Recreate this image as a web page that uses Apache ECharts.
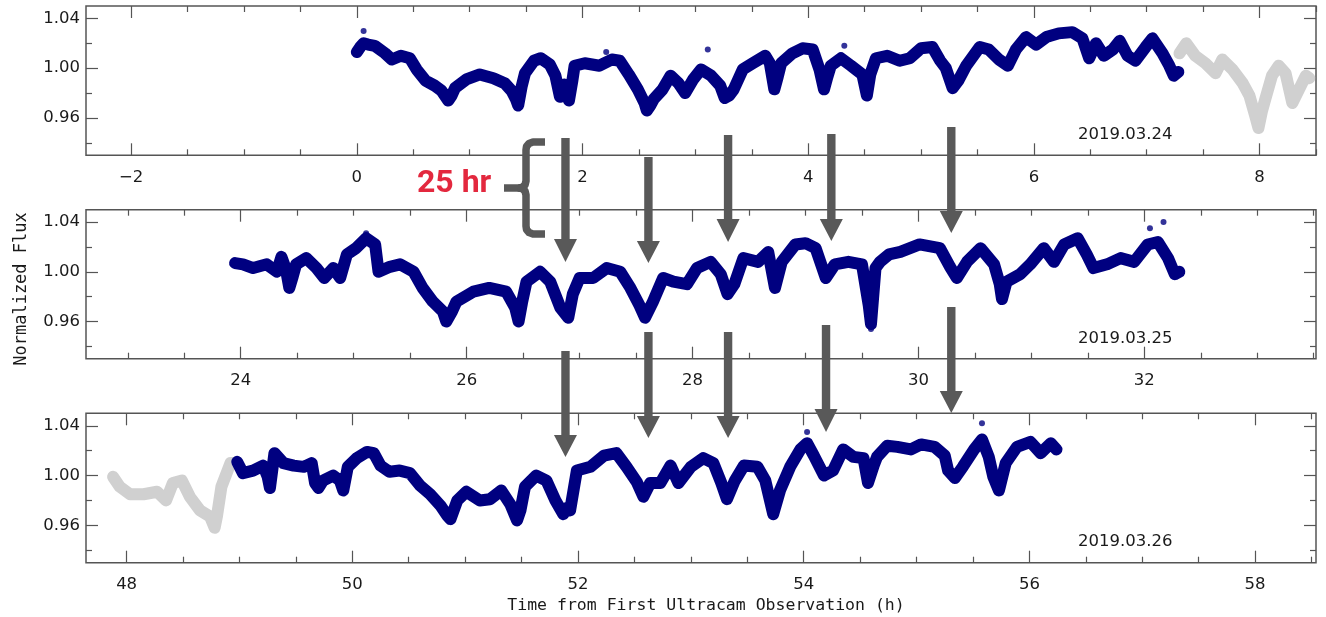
<!DOCTYPE html>
<html>
<head>
<meta charset="utf-8">
<script src="https://cdn.jsdelivr.net/npm/echarts@6/dist/echarts.min.js"></script>
<style>
  html, body { margin: 0; padding: 0; background: #ffffff; }
  #chart { width: 1326px; height: 617px; }
</style>
</head>
<body>
<div id="chart"></div>
<script>
// ULTRACAM light curves, three consecutive nights.
// Each point: [hours since first observation, normalized flux]

const night1 = [
  [0.00,1.013],[0.03,1.017],[0.06,1.020],[0.10,1.019],[0.16,1.018],[0.25,1.012],[0.31,1.007],[0.39,1.010],
  [0.47,1.008],[0.53,0.999],[0.61,0.990],[0.69,0.986],[0.75,0.982],[0.81,0.974],[0.84,0.978],[0.87,0.984],
  [0.97,0.991],[1.09,0.995],[1.21,0.992],[1.31,0.988],[1.37,0.982],[1.41,0.975],[1.43,0.970],[1.46,0.985],
  [1.49,0.996],[1.57,1.006],[1.63,1.008],[1.71,1.003],[1.76,0.994],[1.80,0.977],[1.82,0.985],[1.84,0.987],
  [1.88,0.974],[1.91,0.990],[1.93,1.002],[2.02,1.004],[2.15,1.002],[2.26,1.007],[2.33,1.006],[2.41,0.995],
  [2.49,0.983],[2.55,0.972],[2.57,0.966],[2.60,0.970],[2.63,0.975],[2.71,0.983],[2.78,0.994],[2.85,0.988],
  [2.91,0.980],[2.98,0.991],[3.05,0.999],[3.14,0.994],[3.22,0.986],[3.26,0.976],[3.30,0.978],[3.34,0.983],
  [3.42,0.999],[3.51,1.004],[3.62,1.010],[3.66,1.004],[3.70,0.983],[3.73,0.993],[3.76,1.004],[3.86,1.012],
  [3.95,1.016],[4.04,1.015],[4.10,0.999],[4.14,0.983],[4.17,0.993],[4.20,1.002],[4.29,1.008],[4.38,1.002],
  [4.48,0.995],[4.52,0.978],[4.55,0.995],[4.60,1.008],[4.70,1.010],[4.81,1.006],[4.90,1.008],[5.00,1.016],
  [5.10,1.017],[5.17,1.006],[5.22,1.000],[5.28,0.984],[5.33,0.990],[5.40,1.002],[5.52,1.017],[5.60,1.015],
  [5.69,1.007],[5.77,1.002],[5.84,1.015],[5.93,1.025],[6.02,1.019],[6.11,1.025],[6.22,1.028],[6.34,1.029],
  [6.43,1.024],[6.49,1.008],[6.55,1.020],[6.62,1.010],[6.70,1.015],[6.76,1.022],[6.83,1.010],[6.90,1.006],
  [6.99,1.017],[7.05,1.024],[7.14,1.012],[7.20,1.002],[7.24,0.994],[7.28,0.997]
];
const night1Extra = [
  [7.29,1.012],[7.35,1.020],[7.43,1.010],[7.52,1.004],[7.61,0.996],[7.67,1.007],[7.76,0.999],[7.85,0.988],
  [7.91,0.978],[7.96,0.962],[7.99,0.952],[8.02,0.965],[8.05,0.975],[8.11,0.994],[8.17,1.002],[8.23,0.996],
  [8.29,0.972],[8.35,0.983],[8.41,0.994],[8.44,0.992]
];
const night1Stray = [[0.06,1.030],[2.21,1.013],[3.11,1.015],[4.32,1.018]];

const night2 = [
  [23.95,1.007],[24.02,1.006],[24.11,1.003],[24.23,1.006],[24.32,1.000],[24.36,1.012],[24.40,1.002],[24.43,0.987],
  [24.46,0.996],[24.49,1.006],[24.58,1.011],[24.67,1.003],[24.74,0.995],[24.82,1.003],[24.88,0.995],[24.94,1.014],
  [25.02,1.019],[25.11,1.027],[25.19,1.022],[25.22,1.000],[25.32,1.004],[25.41,1.006],[25.53,1.000],[25.61,0.987],
  [25.70,0.976],[25.79,0.968],[25.82,0.960],[25.87,0.968],[25.91,0.976],[26.06,0.984],[26.20,0.987],[26.35,0.984],
  [26.43,0.971],[26.46,0.960],[26.49,0.975],[26.53,0.992],[26.65,1.000],[26.74,0.992],[26.83,0.971],[26.90,0.963],
  [26.94,0.982],[27.00,0.995],[27.12,0.995],[27.24,1.003],[27.36,1.000],[27.45,0.987],[27.53,0.973],[27.58,0.963],
  [27.65,0.976],[27.74,0.995],[27.83,0.992],[27.95,0.990],[28.04,1.003],[28.16,1.008],[28.25,0.998],[28.31,0.982],
  [28.37,0.990],[28.45,1.011],[28.58,1.008],[28.67,1.016],[28.73,0.987],[28.79,1.008],[28.91,1.022],[29.00,1.023],
  [29.09,1.019],[29.18,0.995],[29.26,1.006],[29.38,1.008],[29.50,1.006],[29.56,0.973],[29.58,0.958],[29.62,1.003],
  [29.66,1.008],[29.74,1.014],[29.84,1.016],[30.01,1.022],[30.19,1.019],[30.28,1.004],[30.34,0.995],[30.43,1.008],
  [30.55,1.019],[30.67,1.006],[30.72,0.990],[30.74,0.978],[30.78,0.992],[30.90,0.998],[30.99,1.006],[31.11,1.019],
  [31.20,1.008],[31.29,1.022],[31.41,1.027],[31.49,1.014],[31.55,1.003],[31.67,1.006],[31.79,1.011],[31.91,1.008],
  [32.03,1.022],[32.12,1.024],[32.21,1.011],[32.27,0.998],[32.31,1.000]
];
const night2Stray = [[25.11,1.031],[29.58,0.954],[32.05,1.035],[32.17,1.040]];

const night3Extra = [
  [47.88,0.999],[47.94,0.991],[48.03,0.985],[48.15,0.985],[48.27,0.987],[48.35,0.980],[48.41,0.994],[48.49,0.996],
  [48.56,0.983],[48.65,0.972],[48.74,0.967],[48.78,0.958],[48.80,0.967],[48.84,0.991],[48.92,1.010],[48.96,1.010]
];
const night3 = [
  [48.98,1.011],[49.03,1.002],[49.12,1.004],[49.21,1.008],[49.25,0.999],[49.27,0.990],[49.31,1.018],[49.39,1.010],
  [49.48,1.008],[49.57,1.007],[49.64,1.010],[49.67,0.994],[49.70,0.990],[49.74,0.996],[49.83,1.000],[49.89,0.996],
  [49.92,0.988],[49.96,1.007],[50.04,1.014],[50.13,1.019],[50.19,1.018],[50.25,1.008],[50.33,1.003],[50.42,1.004],
  [50.51,1.002],[50.60,0.992],[50.69,0.985],[50.78,0.976],[50.84,0.968],[50.87,0.965],[50.93,0.980],[51.01,0.987],
  [51.13,0.980],[51.22,0.981],[51.32,0.988],[51.40,0.977],[51.46,0.964],[51.49,0.972],[51.53,0.991],[51.63,1.000],
  [51.72,0.996],[51.80,0.980],[51.87,0.969],[51.90,0.974],[51.93,0.972],[51.99,1.004],[52.11,1.007],[52.23,1.016],
  [52.34,1.018],[52.43,1.007],[52.52,0.995],[52.58,0.983],[52.64,0.994],[52.73,0.994],[52.82,1.008],[52.89,0.994],
  [53.00,1.007],[53.11,1.014],[53.20,1.010],[53.27,0.994],[53.32,0.981],[53.39,0.996],[53.47,1.008],[53.59,1.007],
  [53.66,0.996],[53.73,0.969],[53.79,0.988],[53.88,1.007],[53.97,1.021],[54.03,1.026],[54.09,1.016],[54.18,1.000],
  [54.26,1.004],[54.35,1.021],[54.44,1.015],[54.53,1.014],[54.57,0.994],[54.62,1.008],[54.65,1.015],[54.74,1.024],
  [54.83,1.023],[54.95,1.021],[55.04,1.025],[55.16,1.023],[55.25,1.016],[55.28,1.004],[55.34,0.998],[55.41,1.007],
  [55.51,1.021],[55.58,1.029],[55.64,1.015],[55.68,0.999],[55.73,0.988],[55.79,1.010],[55.89,1.023],[56.01,1.027],
  [56.10,1.018],[56.19,1.026],[56.24,1.021]
];
const night3Stray = [[54.03,1.035],[55.58,1.042]];

// Axis ranges and tick labels for each night
const xRanges = [[-2.40, 8.50], [22.63, 33.52], [47.64, 58.54]];
const xMajorTicks = [[-2, 0, 2, 4, 6, 8], [24, 26, 28, 30, 32], [48, 50, 52, 54, 56, 58]];
const yRange = [0.93, 1.05];
const yMajorTicks = [0.96, 1.00, 1.04];
const yMinorTicks = [0.94, 0.98, 1.02];
const nightLabels = ['2019.03.24', '2019.03.25', '2019.03.26'];

// Arrows marking recurring dips, positioned on the first night's time axis
const upperArrowTimes = [1.849, 2.584, 3.290, 4.205, 5.268];
const lowerArrowTimes = [1.849, 2.584, 3.290, 4.158, 5.268];

const NAVY = '#000080';
const GREY = '#d0d0d0';
const FRAME = '#555555';
const ARROW = '#595959';
const TICK_FONT = '"DejaVu Sans", sans-serif';
const MONO_FONT = '"DejaVu Sans Mono", monospace';

const gridBoxes = [
  { top: 6, height: 149.3 },
  { top: 209.7, height: 149 },
  { top: 413.3, height: 149.4 }
];

function halfHourTicks(range) {
  const out = [];
  const start = Math.ceil(range[0] * 2) / 2;
  for (let v = start; v <= range[1] + 1e-9; v += 0.5) {
    if (Math.abs(v - Math.round(v / 2) * 2) > 1e-6) out.push(+v.toFixed(2));
  }
  return out;
}

const grids = gridBoxes.map(b => ({
  left: 86, right: 10, top: b.top, height: b.height,
  show: true, borderColor: FRAME, borderWidth: 1.5, backgroundColor: 'transparent'
}));

const xAxes = [];
const yAxes = [];
const mainX = [];
const mainY = [];

function fmtX(v) { return v < 0 ? '\u2212' + Math.abs(v) : String(v); }
const hiddenLine = { show: false, onZero: false };

gridBoxes.forEach((b, gi) => {
  const r = xRanges[gi];
  const minors = halfHourTicks(r);
  const baseX = {
    gridIndex: gi, type: 'value', min: r[0], max: r[1],
    axisLine: hiddenLine, splitLine: { show: false }
  };
  mainX.push(xAxes.length);
  xAxes.push(Object.assign({}, baseX, {
    position: 'bottom',
    axisTick: { show: true, inside: true, length: 12, customValues: xMajorTicks[gi], lineStyle: { color: FRAME, width: 1.2 } },
    axisLabel: { show: true, customValues: xMajorTicks[gi], margin: 14, formatter: fmtX,
                 color: '#1a1a1a', fontSize: 16.5, fontFamily: TICK_FONT }
  }));
  xAxes.push(Object.assign({}, baseX, {
    position: 'bottom',
    axisTick: { show: true, inside: true, length: 6, customValues: minors, lineStyle: { color: FRAME, width: 1.2 } },
    axisLabel: { show: false }
  }));
  xAxes.push(Object.assign({}, baseX, {
    position: 'top',
    axisTick: { show: true, inside: true, length: 12, customValues: xMajorTicks[gi], lineStyle: { color: FRAME, width: 1.2 } },
    axisLabel: { show: false }
  }));
  xAxes.push(Object.assign({}, baseX, {
    position: 'top',
    axisTick: { show: true, inside: true, length: 6, customValues: minors, lineStyle: { color: FRAME, width: 1.2 } },
    axisLabel: { show: false }
  }));

  const baseY = {
    gridIndex: gi, type: 'value', min: yRange[0], max: yRange[1],
    axisLine: hiddenLine, splitLine: { show: false }
  };
  mainY.push(yAxes.length);
  yAxes.push(Object.assign({}, baseY, {
    position: 'left',
    axisTick: { show: true, inside: true, length: 12, customValues: yMajorTicks, lineStyle: { color: FRAME, width: 1.2 } },
    axisLabel: { show: true, customValues: yMajorTicks, margin: 6, formatter: v => v.toFixed(2),
                 color: '#1a1a1a', fontSize: 16.5, fontFamily: TICK_FONT }
  }));
  yAxes.push(Object.assign({}, baseY, {
    position: 'left',
    axisTick: { show: true, inside: true, length: 6, customValues: yMinorTicks, lineStyle: { color: FRAME, width: 1.2 } },
    axisLabel: { show: false }
  }));
  yAxes.push(Object.assign({}, baseY, {
    position: 'right',
    axisTick: { show: true, inside: true, length: 12, customValues: yMajorTicks, lineStyle: { color: FRAME, width: 1.2 } },
    axisLabel: { show: false }
  }));
  yAxes.push(Object.assign({}, baseY, {
    position: 'right',
    axisTick: { show: true, inside: true, length: 6, customValues: yMinorTicks, lineStyle: { color: FRAME, width: 1.2 } },
    axisLabel: { show: false }
  }));
});

// Dense photometry drawn as a thick band through the measured points
function curve(gi, data, color) {
  return {
    type: 'line', xAxisIndex: mainX[gi], yAxisIndex: mainY[gi], data: data,
    showSymbol: false, silent: true, animation: false, clip: true,
    lineStyle: { color: color, width: 12, join: 'round', cap: 'round' }
  };
}
function stray(gi, data) {
  return {
    type: 'scatter', xAxisIndex: mainX[gi], yAxisIndex: mainY[gi], data: data,
    symbolSize: 6, itemStyle: { color: NAVY }, silent: true, animation: false
  };
}

const chart = echarts.init(document.getElementById('chart'), null, { renderer: 'canvas' });
chart.setOption({
  backgroundColor: '#ffffff',
  animation: false,
  grid: grids,
  xAxis: xAxes,
  yAxis: yAxes,
  series: [
    curve(0, night1, NAVY), curve(0, night1Extra, GREY), stray(0, night1Stray),
    curve(1, night2, NAVY), stray(1, night2Stray),
    curve(2, night3Extra, GREY), curve(2, night3, NAVY), stray(2, night3Stray)
  ]
});

// Annotation layer: dip arrows, 25 hr bracket, night labels and axis titles
function arrowShape(x, top, base, tip) {
  return {
    type: 'polygon', silent: true, z: 100,
    shape: { points: [[x - 4.2, top], [x + 4.2, top], [x + 4.2, base], [x + 11.5, base],
                      [x, tip], [x - 11.5, base], [x - 4.2, base]] },
    style: { fill: ARROW }
  };
}
const upperGeom = [[138, 239, 262], [157, 241, 263], [135, 219, 242], [134, 219, 241], [127, 211, 233]];
const lowerGeom = [[351, 435, 457], [332, 416, 438], [332, 416, 438], [325, 409, 432], [307, 391, 413]];

const graphics = [];
upperArrowTimes.forEach((t, i) => {
  const x = chart.convertToPixel({ xAxisIndex: mainX[0] }, t);
  graphics.push(arrowShape(x, upperGeom[i][0], upperGeom[i][1], upperGeom[i][2]));
});
lowerArrowTimes.forEach((t, i) => {
  const x = chart.convertToPixel({ xAxisIndex: mainX[0] }, t);
  graphics.push(arrowShape(x, lowerGeom[i][0], lowerGeom[i][1], lowerGeom[i][2]));
});

// curly bracket spanning the 25 hr offset between nights
const bracketStyle = { stroke: ARROW, lineWidth: 7.5, fill: null, lineCap: 'butt', lineJoin: 'round' };
graphics.push({
  type: 'polyline', silent: true, z: 100,
  shape: { points: [[545, 142], [533, 142], [529, 143.5], [526.5, 146.5], [526, 150], [526, 181],
                    [525, 185], [522, 187.5], [518, 188], [504, 188]] },
  style: bracketStyle
});
graphics.push({
  type: 'polyline', silent: true, z: 100,
  shape: { points: [[518, 188], [522, 188.5], [525, 191], [526, 195], [526, 226], [526.5, 229.5],
                    [529, 232.5], [533, 234], [545, 234]] },
  style: bracketStyle
});
graphics.push({
  type: 'text', silent: true, z: 100, x: 417, y: 184,
  style: { text: '25 hr', font: 'bold 32px Roboto, "Liberation Sans", sans-serif', fill: '#e3283e',
           textAlign: 'left', textVerticalAlign: 'middle', align: 'left', verticalAlign: 'middle' }
});

const labelY = [135, 338.7, 542];
nightLabels.forEach((s, i) => {
  graphics.push({
    type: 'text', silent: true, z: 100, x: 1078, y: labelY[i],
    style: { text: s, font: '16.5px ' + TICK_FONT, fill: '#1a1a1a',
             textAlign: 'left', textVerticalAlign: 'middle', align: 'left', verticalAlign: 'middle' }
  });
});

graphics.push({
  type: 'text', silent: true, z: 100, x: 706, y: 606,
  style: { text: 'Time from First Ultracam Observation (h)', font: '16.5px ' + MONO_FONT, fill: '#1a1a1a',
           textAlign: 'center', textVerticalAlign: 'middle', align: 'center', verticalAlign: 'middle' }
});
graphics.push({
  type: 'text', silent: true, z: 100, x: 22, y: 289, rotation: Math.PI / 2,
  style: { text: 'Normalized Flux', font: '17px ' + MONO_FONT, fill: '#1a1a1a',
           textAlign: 'center', textVerticalAlign: 'middle', align: 'center', verticalAlign: 'middle' }
});

chart.setOption({ graphic: { elements: graphics } });
</script>
</body>
</html>
